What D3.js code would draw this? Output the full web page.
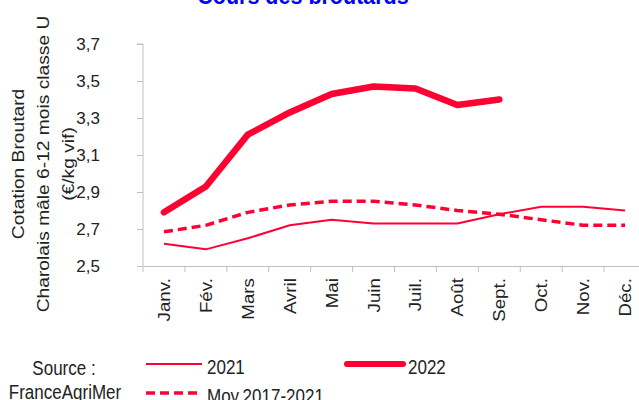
<!DOCTYPE html>
<html><head><meta charset="utf-8">
<script src="https://cdn.jsdelivr.net/npm/d3@7"></script>
<style>
html,body{margin:0;padding:0;background:#fff;overflow:hidden}
text{font-family:"Liberation Sans",Arial,sans-serif}
</style></head>
<body><svg id="c" width="639" height="400"></svg>
<script>
const months = ["Janv.","Fév.","Mars","Avril","Mai","Juin","Juil.","Août","Sept.","Oct.","Nov.","Déc."];
const yTicks = [2.5,2.7,2.9,3.1,3.3,3.5,3.7];
const v2021 = [2.62,2.59,2.65,2.72,2.75,2.73,2.73,2.73,2.78,2.82,2.82,2.80];
const v2022 = [2.79,2.93,3.21,3.33,3.43,3.47,3.46,3.37,3.40];
const vMoy  = [2.685,2.72,2.79,2.83,2.85,2.85,2.83,2.80,2.78,2.75,2.72,2.72];
const title = "Cours des broutards";
const yTitle = ["Cotation Broutard","Charolais mâle 6-12 mois classe U","(€/kg vif)"];

const red = "#ff0033", grey = "#c0c0c0";
const svg = d3.select("#c");
const x = d3.scaleBand().domain(months).range([143, 646]);
const y = d3.scaleLinear().domain([2.5, 3.7]).range([266, 44]);

svg.append("text").attr("transform","translate(303,4) scale(1,1.1)").attr("text-anchor","middle")
  .attr("font-size", 21.5).attr("font-weight","bold").attr("fill","#0000ff").text(title);

const yAxis = svg.append("g").attr("transform","translate(143,0)")
  .call(d3.axisLeft(y).tickValues(yTicks).tickSize(6).tickPadding(37)
    .tickFormat(d => d3.format(".1f")(d).replace(".", ",")));
yAxis.select(".domain").attr("stroke", grey).attr("d", "M-6,44H0V266");
yAxis.selectAll(".tick line").attr("stroke", grey);
yAxis.selectAll(".tick text").attr("font-size", 17).attr("fill","#222")
  .attr("font-family","Liberation Sans, Arial, sans-serif");

const xAxis = svg.append("g").attr("transform","translate(0,266)")
  .call(d3.axisBottom(x).tickSize(0).tickSizeOuter(0));
xAxis.select(".domain").attr("stroke", grey);
xAxis.selectAll(".bt").data(months).enter().append("line")
  .attr("x1", d => x(d)).attr("x2", d => x(d)).attr("y1", 0).attr("y2", 6).attr("stroke", grey);
xAxis.selectAll(".tick text").attr("font-size", 17).attr("fill","#222")
  .attr("font-family","Liberation Sans, Arial, sans-serif")
  .attr("transform","rotate(-90) scale(1.1,1)").attr("text-anchor","end")
  .attr("x", -11).attr("y", 0).attr("dy", "0.35em");

const yt = svg.append("text").attr("transform","translate(0,164) rotate(-90) scale(1.13,1)")
  .attr("text-anchor","middle").attr("font-size",17).attr("fill","#222");
yTitle.forEach((t,i) => yt.append("tspan").attr("x",0).attr("y", 24 + i*25).text(t));

const cx = i => x(months[i]) + x.bandwidth()/2;
const line = d3.line().x((d,i) => cx(i)).y(d => y(d));

svg.append("path").datum(vMoy).attr("d", line).attr("fill","none").attr("stroke", red)
  .attr("stroke-width", 3.5).attr("stroke-dasharray","9,5");
svg.append("path").datum(v2021).attr("d", line).attr("fill","none").attr("stroke", red)
  .attr("stroke-width", 2);
svg.append("path").datum(v2022).attr("d", line).attr("fill","none").attr("stroke", red)
  .attr("stroke-width", 6.5).attr("stroke-linecap","round").attr("stroke-linejoin","round");

// Legend
const lg = svg.append("g").attr("font-size", 17).attr("fill","#222");
const ltext = (px, py, t, anchor) => lg.append("text")
  .attr("transform", `translate(${px},${py}) scale(1,1.17)`).attr("text-anchor", anchor).text(t);
ltext(64, 375, "Source :", "middle");
ltext(65, 399, "FranceAgriMer", "middle");
const items = [
  {label:"2021", x:146, y:364, w:2, dash:null, cap:"butt"},
  {label:"2022", x:347, y:364, w:6, dash:null, cap:"round"},
  {label:"Moy.2017-2021", x:146, y:393, w:3.5, dash:"9,5", cap:"butt"}
];
items.forEach(it => {
  lg.append("line").attr("x1", it.x).attr("x2", it.x+56).attr("y1", it.y).attr("y2", it.y)
    .attr("stroke", red).attr("stroke-width", it.w).attr("stroke-linecap", it.cap)
    .attr("stroke-dasharray", it.dash);
  ltext(it.x+61, it.y+10, it.label, "start");
});
</script></body></html>
